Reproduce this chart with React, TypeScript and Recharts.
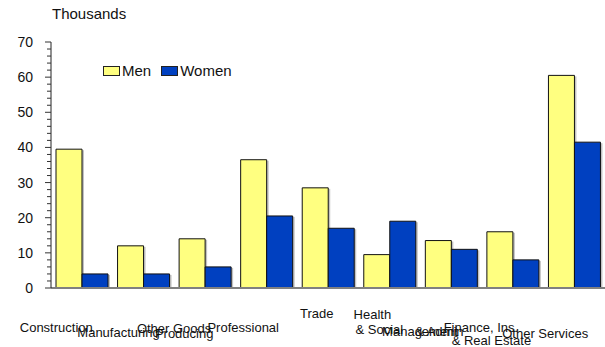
import { BarChart, Bar, XAxis, YAxis, Legend, Rectangle } from 'recharts';

// Employment by industry and sex (thousands)
const categories = [
  'Construction',
  'Manufacturing',
  'Other Goods\nProducing',
  'Professional',
  'Trade',
  'Health\n& Social',
  'Management\n& Admin',
  'Finance, Ins.\n& Real Estate',
  'Other Services',
];
const men = [39.5, 12, 14, 36.5, 28.5, 9.5, 13.5, 16, 60.5];
const women = [4, 4, 6, 20.5, 17, 19, 11, 8, 41.5];
const yTicks = [
  0, 2, 4, 6, 8, 10, 12, 14, 16, 18, 20, 22, 24, 26, 28, 30, 32, 34, 36,
  38, 40, 42, 44, 46, 48, 50, 52, 54, 56, 58, 60, 62, 64, 66, 68, 70,
];

// label placement per line, [dx from category centre, dy below axis]
const labelPos: [number, number][][] = [
  [[-62, 39]],
  [[-66, 44]],
  [[-68, 40], [-50, 45]],
  [[-59, 39]],
  [[-28, 25]],
  [[-36, 26], [-34, 41]],
  [[-69, 43], [-36, 43]],
  [[-69, 39], [-61, 52]],
  [[-72, 45]],
];

const FONT = '"Liberation Sans", Arial, sans-serif';
const YELLOW = '#ffff80';
const BLUE = '#0040c0';

const data = categories.map((c, i) => ({ name: c, men: men[i], women: women[i] }));

function ShadowBar(props: any) {
  const { x, y, width, height, fill } = props;
  if (!height) return null;
  return (
    <g>
      <rect x={x + 2} y={y + 1} width={width} height={height - 1} fill="#9a9a9a" opacity={0.6} />
      <Rectangle x={x} y={y} width={width} height={height} fill={fill} stroke="#111" strokeWidth={1} />
    </g>
  );
}

function CategoryTick(props: any) {
  const { x, y, index } = props;
  const lines = categories[index].split('\n');
  return (
    <g>
      {lines.map((t, k) => (
        <text
          key={k}
          x={x + labelPos[index][k][0]}
          y={y + labelPos[index][k][1]}
          dominantBaseline="central"
          textAnchor="start"
          fontSize={13}
          fontFamily={FONT}
          fill="#111"
        >
          {t}
        </text>
      ))}
    </g>
  );
}

function ValueTick(props: any) {
  const { x, y, payload } = props;
  const major = payload.value % 10 === 0;
  return (
    <g>
      <line x1={x - (major ? 6 : 4)} x2={x} y1={y} y2={y} stroke="#333" />
      {major && (
        <text x={x - 18} y={y} dominantBaseline="central" textAnchor="end" fontSize={14} fontFamily={FONT} fill="#111">
          {payload.value}
        </text>
      )}
    </g>
  );
}

function LegendBox(props: any) {
  const items = props.payload || [];
  return (
    <div style={{ display: 'flex', alignItems: 'center', fontFamily: FONT, fontSize: 15, color: '#111' }}>
      {items.map((it: any, i: number) => (
        <div key={i} style={{ display: 'flex', alignItems: 'center', marginRight: 10 }}>
          <span
            style={{
              display: 'inline-block',
              width: 15,
              height: 8,
              background: it.color,
              border: '1px solid #222',
              marginRight: 2,
            }}
          />
          <span>{it.value}</span>
        </div>
      ))}
    </div>
  );
}

export default function App() {
  return (
    <div style={{ position: 'absolute', left: 0, top: 0, width: 605, height: 347, background: '#fff' }}>
      <div style={{ position: 'absolute', left: 52, top: 5, fontFamily: FONT, fontSize: 15, color: '#111' }}>
        Thousands
      </div>
      <BarChart
        width={605}
        height={347}
        data={data}
        margin={{ top: 25, right: 0, left: 0, bottom: 0 }}
        barSize={26}
        barGap={0}
      >
        <XAxis
          dataKey="name"
          height={59}
          interval={0}
          tickLine={false}
          tickSize={0}
          tickMargin={0}
          tick={<CategoryTick />}
          axisLine={{ stroke: '#808080', strokeWidth: 2 }}
        />
        <YAxis
          width={51}
          domain={[0, 70]}
          ticks={yTicks}
          interval={0}
          tickLine={false}
          tickSize={0}
          tickMargin={0}
          tick={<ValueTick />}
          axisLine={{ stroke: '#222' }}
        />
        <Legend
          verticalAlign="top"
          content={<LegendBox />}
          wrapperStyle={{ position: 'absolute', left: 103, top: 62, width: 'auto' }}
        />
        <Bar dataKey="men" name="Men" fill={YELLOW} shape={<ShadowBar />} isAnimationActive={false} />
        <Bar dataKey="women" name="Women" fill={BLUE} shape={<ShadowBar />} isAnimationActive={false} />
      </BarChart>
    </div>
  );
}
